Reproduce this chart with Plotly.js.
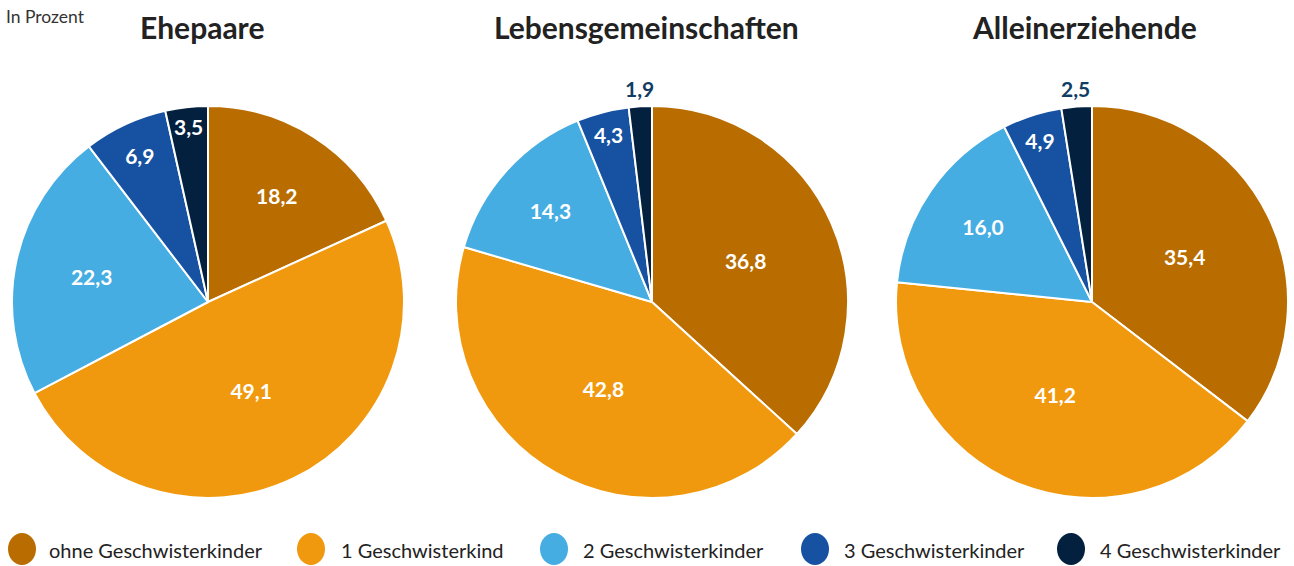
<!DOCTYPE html>
<html><head><meta charset="utf-8">
<script src="https://cdn.plot.ly/plotly-3.0.1.min.js"></script>
<style>body{margin:0;padding:0;background:#fff}#chart{width:1294px;height:566px}</style>
</head><body><div id="chart"></div>
<script>
const categories = ["ohne Geschwisterkinder","1 Geschwisterkind","2 Geschwisterkinder","3 Geschwisterkinder","4 Geschwisterkinder"];
const groups = ["Ehepaare","Lebensgemeinschaften","Alleinerziehende"];
const ehepaare = [18.2, 49.1, 22.3, 6.9, 3.5];
const lebensgemeinschaften = [36.8, 42.8, 14.3, 4.3, 1.9];
const alleinerziehende = [35.4, 41.2, 16.0, 4.9, 2.5];
const colors = ["#b96d00","#f0990e","#46ade2","#1752a2","#03213f"];
const seriesList = [ehepaare, lebensgemeinschaften, alleinerziehende];

const W = 1294, H = 566;
const centersX = [208, 652, 1092];
const titleX = [202, 646, 1084];
const cy = 302, R = 196;
const FONT = "Lato, 'Open Sans', sans-serif";
const fmt = v => v.toFixed(1).replace(".", ",");

const annotations = [];

const traces = seriesList.map((vals, i) => {
  const total = vals.reduce((a, b) => a + b, 0);
  const pos = vals.map(v => v < 3 ? "none" : "inside");
  // outside labels for tiny slices, positioned at slice mid-angle
  let cum = 0;
  vals.forEach((v, k) => {
    const mid = (cum + v / 2) / total;
    cum += v;
    if (v < 3) {
      const ang = mid * 2 * Math.PI; // clockwise from 12 o'clock
      const rr = R + 18;
      const px = centersX[i] + rr * Math.sin(ang);
      const py = cy - rr * Math.cos(ang);
      annotations.push({text: "<b>" + fmt(v) + "</b>", x: px / W, y: 1 - py / H,
        xref: "paper", yref: "paper", xanchor: "center", yanchor: "middle", showarrow: false,
        font: {family: FONT, size: 21, color: "#0f3d63"}});
    }
  });
  return {
    type: "pie",
    values: vals,
    labels: categories,
    sort: false,
    direction: "clockwise",
    rotation: 0,
    marker: {colors: colors, line: {color: "#ffffff", width: 2}},
    texttemplate: "%{value:.1f}",
    textposition: pos,
    insidetextorientation: "horizontal",
    insidetextfont: {family: FONT, size: 21, color: "#ffffff", weight: 700},
    showlegend: false,
    hoverinfo: "label+value",
    domain: {
      x: [(centersX[i]-R)/W, (centersX[i]+R)/W],
      y: [1-(cy+R)/H, 1-(cy-R)/H]
    }
  };
});

groups.forEach((g, i) => annotations.push({
  text: "<b>" + g + "</b>", x: titleX[i]/W, y: 1-27/H, xref: "paper", yref: "paper",
  xanchor: "center", yanchor: "middle", showarrow: false,
  font: {family: FONT, size: 30, color: "#222222"}
}));
annotations.push({
  text: "In Prozent", x: 4/W, y: 1-17/H, xref: "paper", yref: "paper",
  xanchor: "left", yanchor: "middle", showarrow: false,
  font: {family: FONT, size: 17.5, color: "#333333"}
});

const markerX = [8, 297, 540, 801, 1057];
const textX = [47, 339, 581, 842, 1098];
const shapes = [];
categories.forEach((c, i) => {
  const x0 = markerX[i];
  shapes.push({type: "circle", xref: "paper", yref: "paper",
    x0: x0/W, x1: (x0+28)/W, y0: 1-565/H, y1: 1-533/H,
    fillcolor: colors[i], line: {width: 0}});
  annotations.push({text: c, x: textX[i]/W, y: 1-550/H, xref: "paper", yref: "paper",
    xanchor: "left", yanchor: "middle", showarrow: false,
    font: {family: FONT, size: 20, color: "#222222"}});
});

const layout = {
  width: W, height: H,
  margin: {l: 0, r: 0, t: 0, b: 0},
  paper_bgcolor: "#ffffff",
  separators: ",.",
  showlegend: false,
  annotations: annotations,
  shapes: shapes,
  font: {family: FONT}
};
Plotly.newPlot("chart", traces, layout, {displayModeBar: false, staticPlot: true});
</script></body></html>
